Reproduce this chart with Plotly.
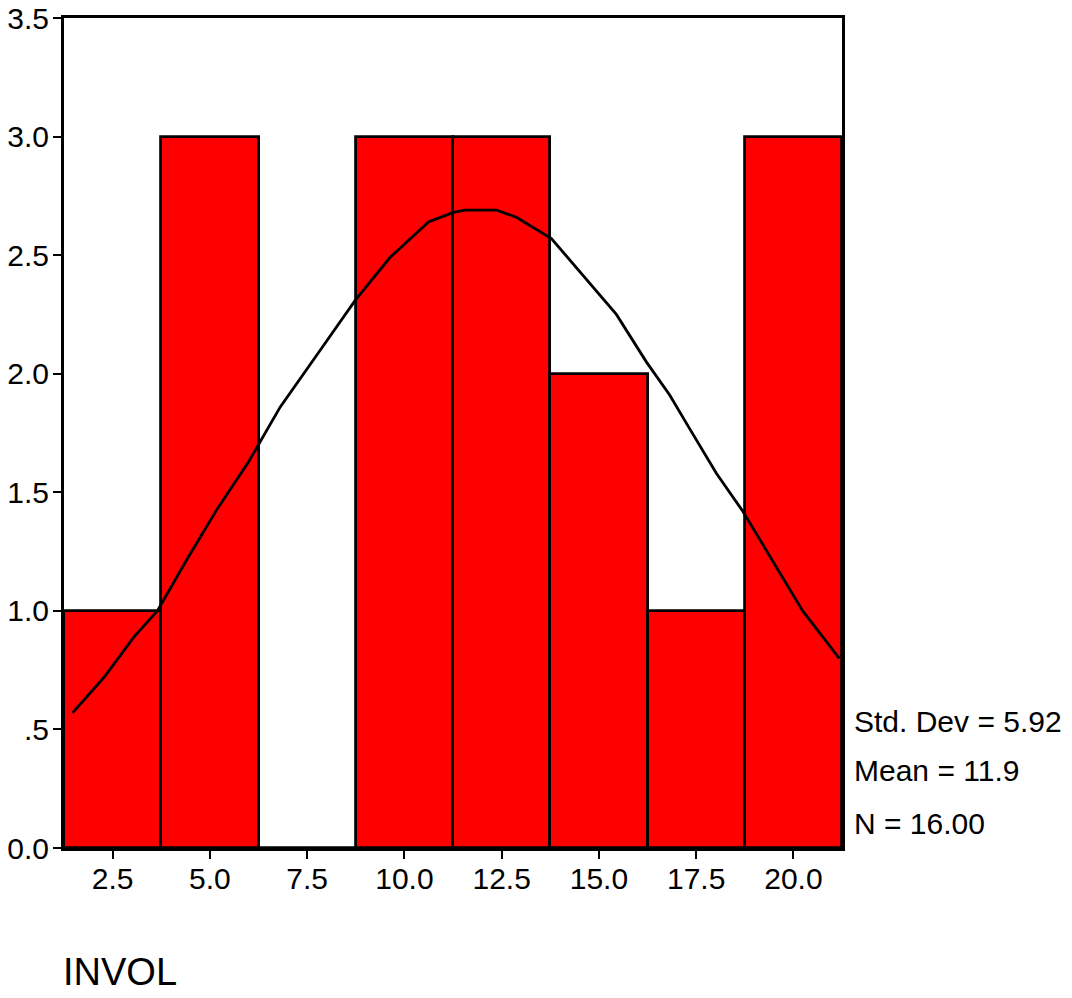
import plotly.graph_objects as go

# Histogram data (bin centers and counts)
bin_centers = [2.5, 5.0, 7.5, 10.0, 12.5, 15.0, 17.5, 20.0]
counts = [1, 3, 0, 3, 3, 2, 1, 3]
bin_width = 2.5

# Normal curve
curve_x = [1.47, 2.28, 3.05, 3.65, 4.42, 5.19, 6.0, 6.81, 7.84, 8.35, 8.74, 9.63,
           10.62, 11.26, 11.56, 12.37, 12.88, 13.78, 14.68, 15.45, 16.22, 16.82,
           17.29, 18.02, 18.70, 19.68, 20.24, 21.18]
curve_y = [0.57, 0.72, 0.89, 1.00, 1.22, 1.43, 1.63, 1.86, 2.10, 2.22, 2.31, 2.49,
           2.64, 2.68, 2.69, 2.69, 2.66, 2.57, 2.40, 2.25, 2.05, 1.91,
           1.78, 1.58, 1.42, 1.15, 1.00, 0.80]

y_tick_vals = [0.0, 0.5, 1.0, 1.5, 2.0, 2.5, 3.0, 3.5]
y_tick_text = ["0.0", ".5", "1.0", "1.5", "2.0", "2.5", "3.0", "3.5"]
x_tick_vals = [2.5, 5.0, 7.5, 10.0, 12.5, 15.0, 17.5, 20.0]
x_tick_text = ["2.5", "5.0", "7.5", "10.0", "12.5", "15.0", "17.5", "20.0"]

stats_lines = ["Std. Dev = 5.92", "Mean = 11.9", "N = 16.00"]
x_title = "INVOL"

FONT = "Liberation Sans, Arial, sans-serif"

fig = go.Figure()
fig.add_trace(go.Bar(
    x=bin_centers, y=counts, width=[bin_width] * len(bin_centers),
    marker=dict(color="#ff0000", line=dict(color="black", width=2.8)),
    showlegend=False, hoverinfo="skip",
))
fig.add_trace(go.Scatter(
    x=curve_x, y=curve_y, mode="lines",
    line=dict(color="black", width=2.8, shape="linear"),
    showlegend=False, hoverinfo="skip",
))

axis_common = dict(
    showline=True, mirror=True, linecolor="black", linewidth=3,
    ticks="outside", ticklen=8, tickwidth=2, tickcolor="black",
    showgrid=False, zeroline=False, automargin=False,
    tickfont=dict(family=FONT, size=30, color="black"),
)
fig.update_xaxes(range=[1.25, 21.25], tickvals=x_tick_vals, ticktext=x_tick_text,
                 ticklabelstandoff=-6, **axis_common)
fig.update_yaxes(range=[0, 3.5], tickvals=y_tick_vals, ticktext=y_tick_text,
                 ticklabelstandoff=-2, **axis_common)

stat_y = [0.153, 0.0928, 0.0301]
for txt, yy in zip(stats_lines, stat_y):
    fig.add_annotation(x=1.0129, y=yy, xref="paper", yref="paper", text=txt,
                       showarrow=False, xanchor="left", yanchor="middle",
                       font=dict(family=FONT, size=30, color="black"))
fig.add_annotation(x=-0.004, y=-0.149, xref="paper", yref="paper", text=x_title,
                   showarrow=False, xanchor="left", yanchor="middle",
                   font=dict(family=FONT, size=38, color="black"))

fig.update_layout(
    template="none",
    width=1072, height=998,
    margin=dict(l=64, r=230, t=18, b=150),
    plot_bgcolor="white", paper_bgcolor="white",
    bargap=0,
)
fig.write_html("out.html", config={"displayModeBar": False},
               post_script="document.body.style.margin='0';")
